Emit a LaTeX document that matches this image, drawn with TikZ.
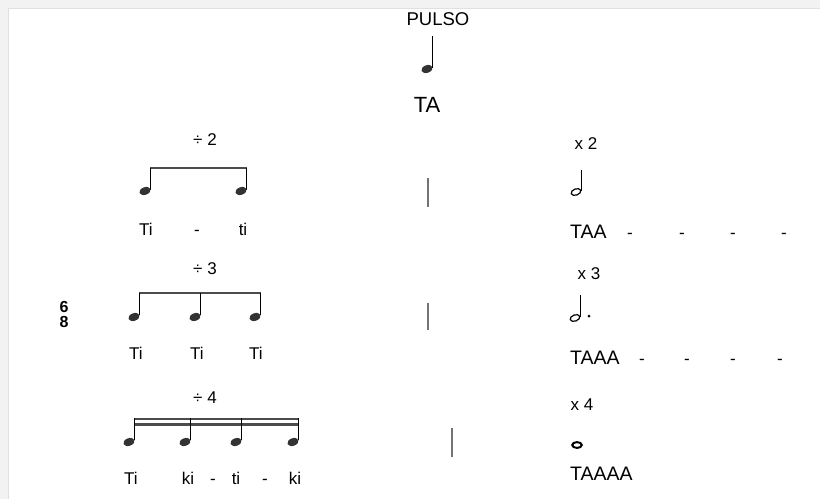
\documentclass[tikz,border=0pt]{standalone}
\usepackage{fontspec}
\setmainfont{Liberation Sans}
\usetikzlibrary{positioning}

\begin{document}
\begin{tikzpicture}[x=1pt, y=-1pt,
        txt/.style = {inner sep=0pt, anchor=base, font=\fontsize{17}{20}\selectfont},
        syl/.style = {inner sep=0pt, anchor=base west, font=\fontsize{19.5}{23}\selectfont},
        head/.style = {fill=black!80},
        hollow/.style = {draw, line width=1.2pt},
        stem/.style = {line width=0.9pt},
        beam/.style = {line width=2.8pt, black!70},
        bar/.style = {line width=1.3pt, black!55}]

            \useasboundingbox (0,0) rectangle (820,499);
            \fill[black!5] (0,0) rectangle (820,8);
            \fill[black!5] (0,0) rectangle (8,499);
            \draw[black!12, line width=1.5pt] (8,8.5) -- (820,8.5);
            \draw[black!12, line width=1.5pt] (8.5,8) -- (8.5,499);

            % pulse
            \node[txt, font=\fontsize{18.5}{22}\selectfont] (pulso) at (438,25) {PULSO};
            \fill[head, shift={(427,69)}, rotate=20] (0,0) ellipse (5.8pt and 3.8pt);
            \draw[stem] (432,68) -- (432,36);
            \node[txt, font=\fontsize{22}{26}\selectfont] (ta) at (427,112) {TA};

            % division by 2
            \node[txt] (div2) at (205,145) {÷ 2};
            \draw[beam] (150,168) -- (246.5,168);
            \draw[stem] (150,168) -- (150,190);
            \draw[stem] (246,168) -- (246,190);
            \fill[head, shift={(145,191)}, rotate=20] (0,0) ellipse (5.8pt and 3.8pt);
            \fill[head, shift={(241,191)}, rotate=20] (0,0) ellipse (5.8pt and 3.8pt);
            \node[txt] (ti1) at (146,235) {Ti};
            \node[txt] (sep1) at (197,235) {-};
            \node[txt] (ti2) at (243,235) {ti};

            % division by 3
            \node[txt] (div3) at (205,274) {÷ 3};
            \draw[beam] (139,293) -- (260.5,293);
            \draw[stem] (139,293) -- (139,315);
            \draw[stem] (200,293) -- (200,315);
            \draw[stem] (260,293) -- (260,315);
            \fill[head, shift={(134,317)}, rotate=20] (0,0) ellipse (5.8pt and 3.8pt);
            \fill[head, shift={(195,317)}, rotate=20] (0,0) ellipse (5.8pt and 3.8pt);
            \fill[head, shift={(255,317)}, rotate=20] (0,0) ellipse (5.8pt and 3.8pt);
            \node[txt] (ti3) at (136,359) {Ti};
            \node[txt] (ti4) at (197,359) {Ti};
            \node[txt] (ti5) at (256,359) {Ti};

            % division by 4
            \node[txt] (div4) at (205,403) {÷ 4};
            \draw[beam] (134,419) -- (298.5,419);
            \draw[beam] (134,424.5) -- (298.5,424.5);
            \draw[stem] (134,418) -- (134,440);
            \draw[stem] (190,418) -- (190,440);
            \draw[stem] (241,418) -- (241,440);
            \draw[stem] (298,418) -- (298,440);
            \fill[head, shift={(129,442)}, rotate=20] (0,0) ellipse (5.8pt and 3.8pt);
            \fill[head, shift={(185,442)}, rotate=20] (0,0) ellipse (5.8pt and 3.8pt);
            \fill[head, shift={(236,442)}, rotate=20] (0,0) ellipse (5.8pt and 3.8pt);
            \fill[head, shift={(293,442)}, rotate=20] (0,0) ellipse (5.8pt and 3.8pt);
            \node[txt] (ti6) at (131,484) {Ti};
            \node[txt] (ki1) at (188,484) {ki};
            \node[txt] (sep2) at (213,484) {-};
            \node[txt] (ti7) at (236,484) {ti};
            \node[txt] (sep3) at (265,484) {-};
            \node[txt] (ki2) at (295,484) {ki};

            % time signature
            \node[txt, font=\bfseries\fontsize{16}{16}\selectfont] (six) at (64,312) {6};
            \node[txt, font=\bfseries\fontsize{16}{16}\selectfont] (eight) at (64,327.5) {8};

            % bar lines
            \draw[bar] (428,178) -- (428,207);
            \draw[bar] (428,303) -- (428,330);
            \draw[bar] (452,428) -- (452,457);

            % multiplication by 2
            \node[txt] (mul2) at (586,149) {x 2};
            \draw[hollow, shift={(576,192)}, rotate=20] (0,0) ellipse (5pt and 3.1pt);
            \draw[stem] (581,191) -- (581,170);
            \node[syl] (taa) at (570,238) {TAA};
            \node[txt] (d1) at (630,238) {-};
            \node[txt] (d2) at (682,238) {-};
            \node[txt] (d3) at (733,238) {-};
            \node[txt] (d4) at (784,238) {-};

            % multiplication by 3
            \node[txt] (mul3) at (589,279) {x 3};
            \draw[hollow, shift={(575,318)}, rotate=20] (0,0) ellipse (5pt and 3.1pt);
            \draw[stem] (580,317) -- (580,295);
            \fill (589,316) circle (1.5pt);
            \node[syl] (taaa) at (570,364) {TAAA};
            \node[txt] (d5) at (642,364) {-};
            \node[txt] (d6) at (687,364) {-};
            \node[txt] (d7) at (733,364) {-};
            \node[txt] (d8) at (780,364) {-};

            % multiplication by 4
            \node[txt] (mul4) at (582,410) {x 4};
            \draw[line width=2pt] (577,445) ellipse (4.8pt and 2.9pt);
            \node[syl] (taaaa) at (570,480) {TAAAA};
        \end{tikzpicture}
\end{document}
